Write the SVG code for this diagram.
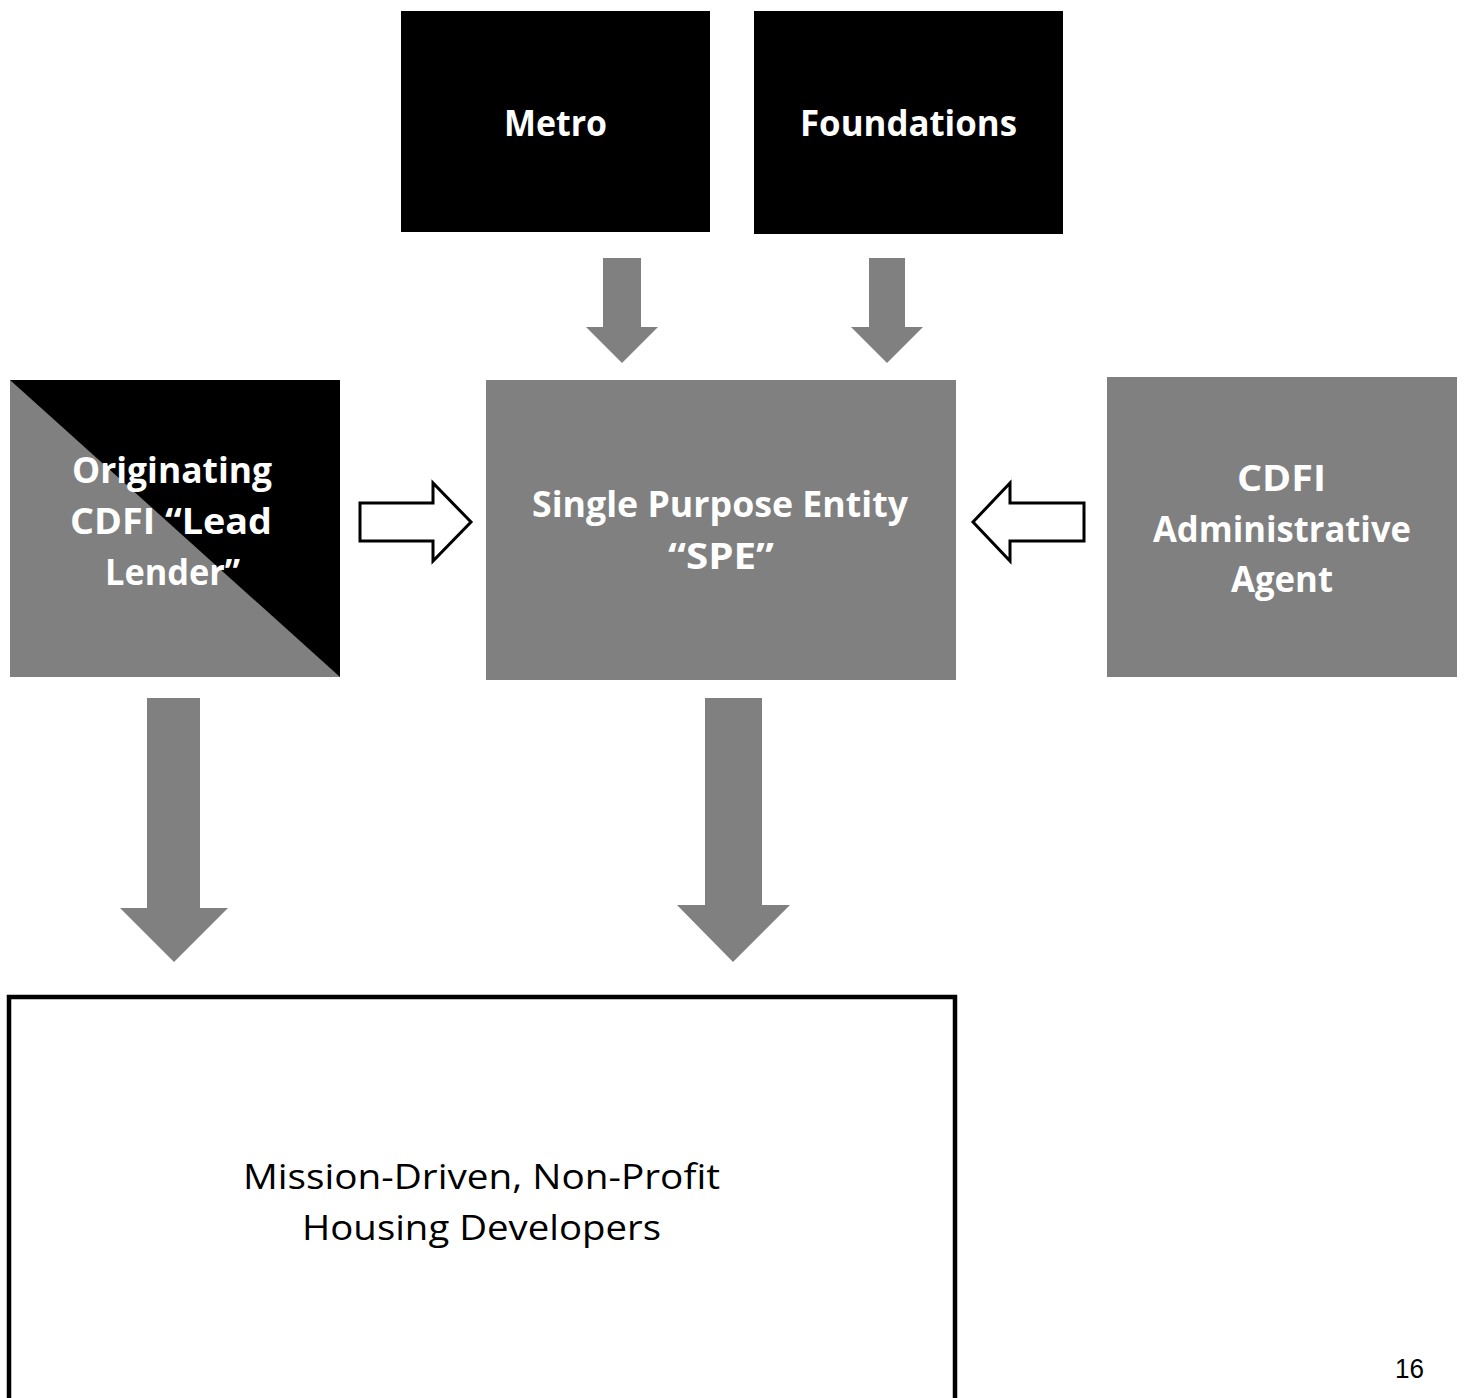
<svg xmlns="http://www.w3.org/2000/svg" width="1465" height="1398" viewBox="0 0 1465 1398">
<style>
.lbl{font-family:"Open Sans","DejaVu Sans",sans-serif;font-weight:700;font-size:35px;fill:#fff;text-anchor:middle}
.body{font-family:"Open Sans","DejaVu Sans",sans-serif;font-weight:400;font-size:35px;fill:#000;text-anchor:middle}
.gray{fill:#808080}
.blk{fill:#000}
.hollow{fill:#fff;stroke:#000;stroke-width:3;stroke-linejoin:miter}
</style>
<rect width="1465" height="1398" fill="#fff"/>
<g id="metro">
<rect class="blk" x="401" y="11" width="309" height="221"/>
<text class="lbl" x="555.5" y="136" textLength="103" lengthAdjust="spacingAndGlyphs">Metro</text>
</g>
<g id="foundations">
<rect class="blk" x="754" y="11" width="309" height="223"/>
<text class="lbl" x="908.5" y="136" textLength="217" lengthAdjust="spacingAndGlyphs">Foundations</text>
</g>
<g id="originating">
<rect class="gray" x="10" y="380" width="330" height="297"/>
<polygon class="blk" points="10,380 340,380 340,677"/>
<text class="lbl" x="172" y="483" textLength="200" lengthAdjust="spacingAndGlyphs">Originating</text>
<text class="lbl" x="171" y="534" textLength="202" lengthAdjust="spacingAndGlyphs">CDFI “Lead</text>
<text class="lbl" x="172.5" y="585" textLength="135" lengthAdjust="spacingAndGlyphs">Lender”</text>
</g>
<g id="spe">
<rect class="gray" x="486" y="380" width="470" height="300"/>
<text class="lbl" x="720" y="517" textLength="376" lengthAdjust="spacingAndGlyphs">Single Purpose Entity</text>
<text class="lbl" x="721" y="569" textLength="106" lengthAdjust="spacingAndGlyphs">“SPE”</text>
</g>
<g id="admin">
<rect class="gray" x="1107" y="377" width="350" height="300"/>
<text class="lbl" x="1281.5" y="491" textLength="89" lengthAdjust="spacingAndGlyphs">CDFI</text>
<text class="lbl" x="1282" y="542" textLength="258" lengthAdjust="spacingAndGlyphs">Administrative</text>
<text class="lbl" x="1282" y="592" textLength="102" lengthAdjust="spacingAndGlyphs">Agent</text>
</g>
<g id="developers">
<rect x="9" y="997" width="946" height="420" fill="#fff" stroke="#000" stroke-width="4.5"/>
<text class="body" x="481.5" y="1189" textLength="477" lengthAdjust="spacingAndGlyphs">Mission-Driven, Non-Profit</text>
<text class="body" x="481.5" y="1240" textLength="359" lengthAdjust="spacingAndGlyphs">Housing Developers</text>
</g>
<g id="connectors">
<polygon class="gray" points="603,258 641,258 641,327 658,327 622,363 586,327 603,327"/>
<polygon class="gray" points="869,258 905,258 905,327 923,327 887,363 851,327 869,327"/>
<polygon class="gray" points="147,698 200,698 200,908 228,908 174,962 120,908 147,908"/>
<polygon class="gray" points="705,698 762,698 762,905 790,905 733,962 677,905 705,905"/>
<polygon class="hollow" points="360,503 433,503 433,483 471,522 433,561 433,541 360,541"/>
<polygon class="hollow" points="1084,503 1010,503 1010,483 973,522 1010,561 1010,541 1084,541"/>
</g>
<text x="1395" y="1378" font-family="'Liberation Sans',Arial,sans-serif" font-size="27" fill="#000" textLength="29" lengthAdjust="spacingAndGlyphs">16</text>
</svg>
